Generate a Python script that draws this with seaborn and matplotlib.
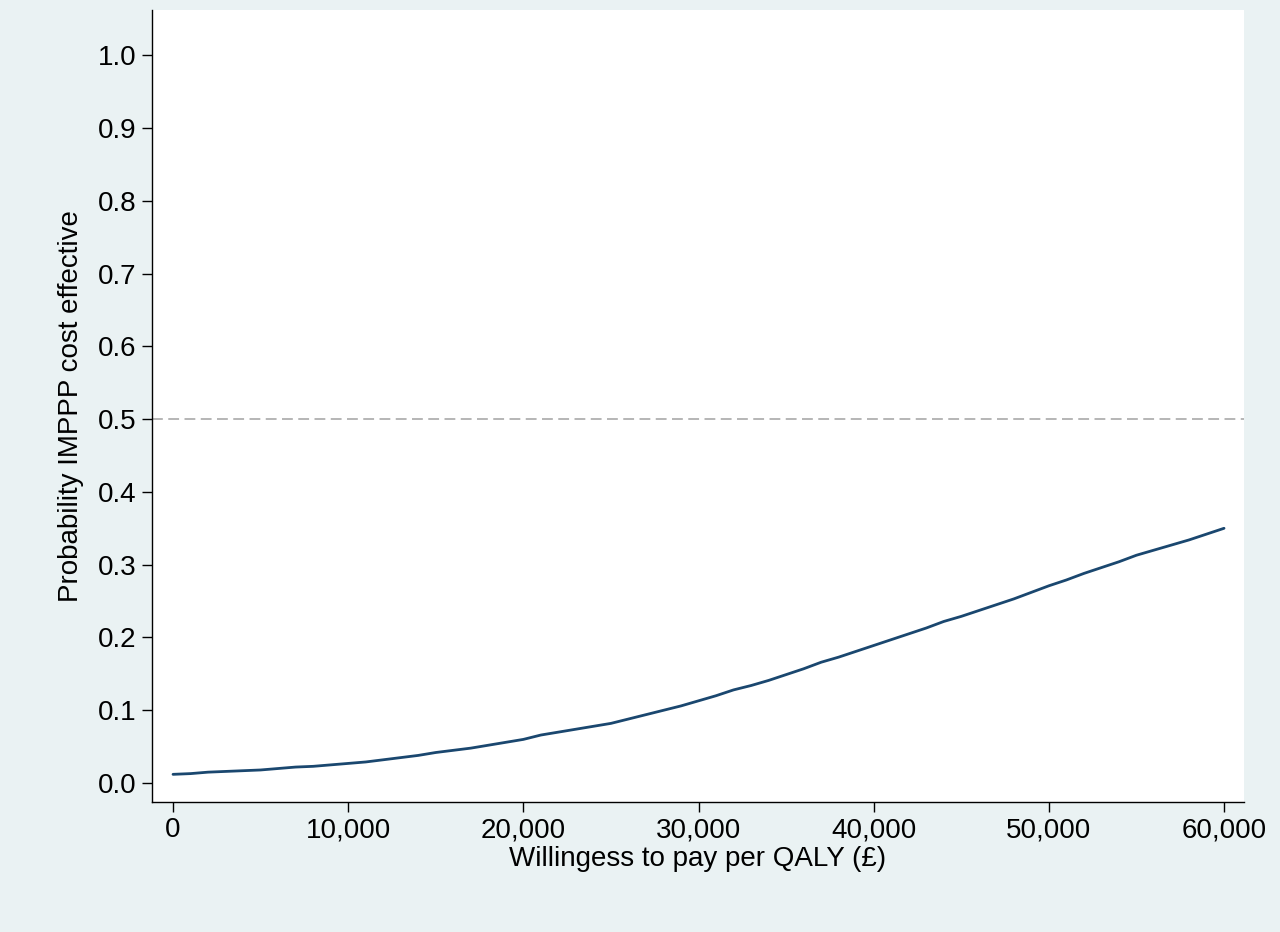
import matplotlib
matplotlib.use("Agg")
import matplotlib.pyplot as plt
import seaborn as sns
import pandas as pd

wtp = list(range(0, 61000, 1000))
prob = [0.012,0.013,0.015,0.016,0.017,0.018,0.020,0.022,0.023,0.025,0.027,0.029,0.032,0.035,0.038,
        0.042,0.045,0.048,0.052,0.056,0.060,0.066,0.070,0.074,0.078,0.082,0.088,0.094,0.100,0.106,
        0.113,0.120,0.128,0.134,0.141,0.149,0.157,0.166,0.173,0.181,0.189,0.197,0.205,0.213,0.222,
        0.229,0.237,0.245,0.253,0.262,0.271,0.279,0.288,0.296,0.304,0.313,0.320,0.327,0.334,0.342,0.350]
xticks = [0, 10000, 20000, 30000, 40000, 50000, 60000]
yticks = [i / 10 for i in range(11)]

sns.set_style("ticks")
plt.rcParams['font.family'] = ['Liberation Sans', 'DejaVu Sans']
fig = plt.figure(figsize=(12.8, 9.32), dpi=100, facecolor="#EAF2F3")
ax = fig.add_axes([152/1280, 130/932, 1092/1280, 792/932])
ax.set_facecolor("white")
df = pd.DataFrame({"wtp": wtp, "prob": prob})
sns.lineplot(data=df, x="wtp", y="prob", ax=ax, color="#1a476f", linewidth=2)
ax.axhline(0.5, color="#b0b0b0", linestyle=(0, (6, 3)), linewidth=1.3)
ax.set_xlim(-1200, 61140)
ax.set_ylim(-0.026, 1.062)
ax.set_xticks(xticks)
ax.set_xticklabels([f"{v:,}" for v in xticks])
ax.set_yticks(yticks)
ax.set_yticklabels([f"{v:.1f}" for v in yticks])
ax.tick_params(labelsize=20, length=7, width=1, color="black", labelcolor="black",
               direction="out", pad=4)
ax.set_xlabel("Willingess to pay per QALY (£)", fontsize=20, labelpad=2, color="black")
ax.set_ylabel("Probability IMPPP cost effective", fontsize=20, labelpad=10, color="black")
for s in ["top", "right"]:
    ax.spines[s].set_visible(False)
for s in ["left", "bottom"]:
    ax.spines[s].set_color("black")
    ax.spines[s].set_linewidth(1)
fig.savefig("out.png", dpi=100, facecolor=fig.get_facecolor())
